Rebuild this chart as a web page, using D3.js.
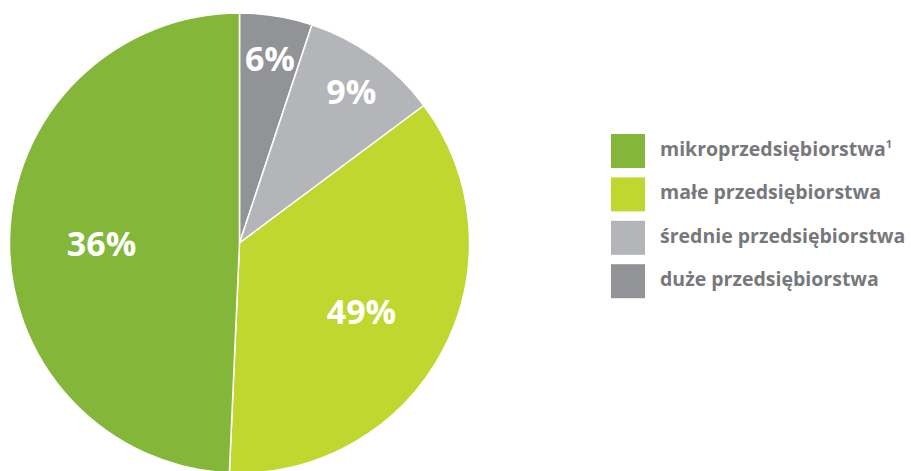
<!DOCTYPE html>
<html>
<head>
<meta charset="utf-8">
<script src="https://cdn.jsdelivr.net/npm/d3@7"></script>
<style>
  html, body { margin: 0; padding: 0; background: #ffffff; }
  svg { display: block; }
</style>
</head>
<body>
<svg id="chart" width="911" height="471"></svg>
<script>
// Categories in drawing order (clockwise from 12 o'clock)
const categories = ["duże przedsiębiorstwa", "średnie przedsiębiorstwa", "małe przedsiębiorstwa", "mikroprzedsiębiorstwa"];
// Slice sizes (%)
const values = [5.1, 9.7, 35.9, 49.3];
// Labels as printed on the picture
const sliceLabels = ["6%", "9%", "49%", "36%"];
const colors = ["#929396", "#b4b5b8", "#c0d72f", "#84b739"];
// Legend order
const legendOrder = ["mikroprzedsiębiorstwa", "małe przedsiębiorstwa", "średnie przedsiębiorstwa", "duże przedsiębiorstwa"];
const legendSup = ["1", "", "", ""];

const svg = d3.select("#chart");
const cx = 239.5, cy = 243, R = 230;

const color = d3.scaleOrdinal().domain(categories).range(colors);

const data = categories.map((c, i) => ({ cat: c, value: values[i], label: sliceLabels[i] }));
const pie = d3.pie().sort(null).value(d => d.value);
const arcs = pie(data);
const arc = d3.arc().innerRadius(0).outerRadius(R);

const g = svg.append("g").attr("transform", `translate(${cx},${cy})`);
g.selectAll("path.slice").data(arcs).enter().append("path")
  .attr("class", "slice")
  .attr("d", arc)
  .attr("fill", d => color(d.data.cat))
  .attr("stroke", "#ffffff")
  .attr("stroke-width", 1.5)
  .attr("stroke-linejoin", "round");

g.selectAll("text.lbl").data(arcs).enter().append("text")
  .attr("class", "lbl")
  .attr("transform", d => {
    const frac = (d.endAngle - d.startAngle) / (2 * Math.PI);
    const lr = frac < 0.2 ? R * 0.83 : R * 0.6;
    const a = (d.startAngle + d.endAngle) / 2;
    return `translate(${lr * Math.sin(a)},${-lr * Math.cos(a) + 4})`;
  })
  .attr("text-anchor", "middle")
  .attr("dy", "0.36em")
  .attr("fill", "#ffffff")
  .style("font-family", "'Open Sans', sans-serif")
  .style("font-weight", 700)
  .style("font-size", "34px")
  .text(d => d.data.label);

// Legend
const legend = svg.append("g").attr("transform", "translate(611,134)");
const item = legend.selectAll("g.item").data(legendOrder).enter().append("g")
  .attr("class", "item")
  .attr("transform", (d, i) => `translate(0,${i * 43.4})`);
item.append("rect")
  .attr("width", 34).attr("height", 34)
  .attr("fill", d => color(d));
const txt = item.append("text")
  .attr("x", 49).attr("y", 22)
  .attr("fill", "#77787b")
  .style("font-family", "'Open Sans', sans-serif")
  .style("font-weight", 700)
  .style("font-size", "19.5px");
txt.append("tspan").text(d => d);
txt.append("tspan")
  .attr("dy", -8)
  .style("font-size", "11px")
  .text((d, i) => legendSup[i]);
</script>
</body>
</html>
